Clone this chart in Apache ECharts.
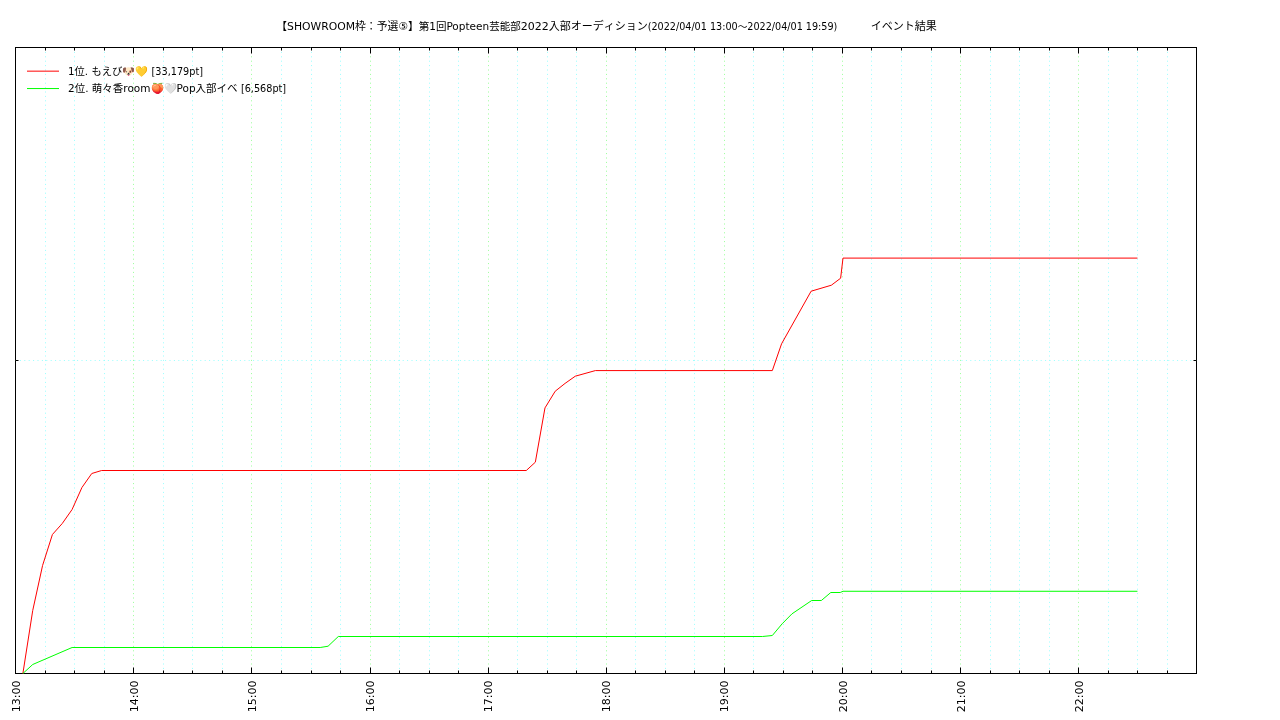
<!DOCTYPE html>
<html><head><meta charset="utf-8">
<style>html,body{margin:0;padding:0;background:#fff}#c{width:1280px;height:720px}</style>
<script src="https://cdn.jsdelivr.net/npm/echarts@6/dist/echarts.min.js"></script>
</head><body><div id="c"></div>
<script>
const titleLead = '【SHOWROOM枠：予選⑤】';
const titleHead = '第1回Popteen芸能部';
const titleTail = '2022入部オーディション';
const titleDate = '(2022/04/01 13:00～2022/04/01 19:59)';
const titleGap = '          ';
const titleEnd = 'イベント結果';
const name1 = '1位. もえび🐶💛 [33,179pt]';
const name2 = '2位. 萌々香room🍑🤍Pop入部イベ [6,568pt]';
const hourLabels = ['13:00','14:00','15:00','16:00','17:00','18:00','19:00','20:00','21:00','22:00'];
// minutes after 13:00 and points
const redMinutes = [3.75,8.75,13.75,18.75,23.75,28.75,33.75,38.75,43.75,259.5,264.1,269,274.2,279.2,284.4,294.6,384.5,389.2,404.2,414.5,419.2,420.4,570];
const redValues  = [0,5032,8626,11102,11980,13099,14856,15974,16214,16214,16877,21213,22547,23170,23746,24194,24194,26333,30534,31013,31572,33179,33179];
const greenMinutes = [3.75,8.75,28.75,154.8,158.8,164,379.5,384.5,389.5,394.5,404.5,409.4,414.2,419,420.4,570];
const greenValues  = [0,719,2076,2076,2180,2955,2955,3035,3970,4768,5830,5830,6469,6469,6568,6568];
const zip = (a,b)=>a.map((v,i)=>[v,b[i]]);
const FONT = '"DejaVu Sans","Noto Sans CJK JP",sans-serif';
const dotted = c => ({lineStyle:{color:c,width:1,type:[1,3.4]}});
const chart = echarts.init(document.getElementById('c'),null,{renderer:'canvas'});
const xBase = {type:'value',min:0,max:600,interval:60,minorTick:{show:true,splitNumber:4,length:3,lineStyle:{color:'#000'}},
  axisLine:{show:true,onZero:false,lineStyle:{color:'#000',width:1}},
  axisTick:{show:true,inside:true,length:6,lineStyle:{color:'#000'}}};
const yBase = {type:'value',min:0,max:50000,interval:25000,axisLabel:{show:false},
  axisLine:{show:true,onZero:false,lineStyle:{color:'#000',width:1}},
  axisTick:{show:true,inside:true,length:3,lineStyle:{color:'#000'}}};
const tf = s => ({fontFamily:FONT,fontSize:s,color:'#000'});
chart.setOption({
  animation:false,
  backgroundColor:'#fff',
  title:{text:`{d|${titleLead}}{a|${titleHead}}{b|${titleTail}}{c|${titleDate}}{a|${titleGap}}{b|${titleEnd}}`,left:601.5,top:17,textAlign:'center',
    textStyle:{fontWeight:'normal',rich:{a:tf(10.5),b:tf(11),c:tf(9.65),d:tf(10.8)}}},
  legend:{left:22,top:62,orient:'vertical',itemWidth:32,itemHeight:1,itemGap:7,icon:'rect',
    formatter:n=>{const i=n.indexOf('[');return `{${n===name1?'p':'r'}|${n.slice(0,i)}}{q|${n.slice(i)}}`;},
    textStyle:{padding:[2,0,0,4],rich:{p:tf(10.3),r:tf(10.5),q:tf(9.7)}},
    data:[name1,name2]},
  grid:{left:15.5,right:83.5,top:47.5,bottom:46.5,containLabel:false},
  xAxis:[
    Object.assign({},xBase,{position:'bottom',
      axisLabel:{show:true,rotate:90,margin:7,verticalAlign:'top',lineHeight:3,fontFamily:'"DejaVu Sans"',fontSize:11,color:'#000',showMaxLabel:false,
        formatter:v=>hourLabels[v/60]||''},
      splitLine:{show:true,...dotted('#99ff99')},
      minorSplitLine:{show:true,...dotted('#99ffff')}}),
    Object.assign({},xBase,{position:'top',axisLabel:{show:false},splitLine:{show:false}})
  ],
  yAxis:[
    Object.assign({},yBase,{position:'left',splitLine:{show:true,...dotted('#99ffff')}}),
    Object.assign({},yBase,{position:'right',splitLine:{show:false}})
  ],
  series:[
    {name:name1,type:'line',data:zip(redMinutes,redValues),symbol:'none',lineStyle:{color:'#ff0000',width:1},itemStyle:{color:'#ff0000'},z:3},
    {name:name2,type:'line',data:zip(greenMinutes,greenValues),symbol:'none',lineStyle:{color:'#00ff00',width:1},itemStyle:{color:'#00ff00'},z:3}
  ]
});
</script></body></html>
